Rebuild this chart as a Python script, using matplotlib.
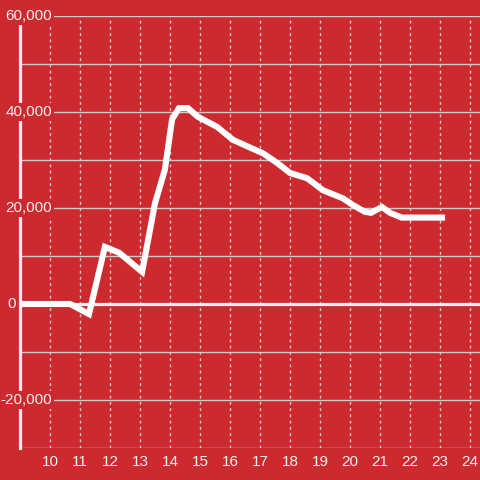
import matplotlib
matplotlib.use("Agg")
import matplotlib.pyplot as plt
import matplotlib.ticker as mticker

plt.rcParams["font.family"] = ["Liberation Sans", "DejaVu Sans"]

# hour of day vs value
HOURS = [9.0, 10.67, 11.3, 11.83, 12.3, 13.07, 13.5, 13.83, 14.07, 14.3,
         14.6, 14.93, 15.57, 16.1, 16.7, 17.1, 17.57, 18.0, 18.57, 19.1,
         19.77, 20.1, 20.5, 20.7, 21.07, 21.33, 21.73, 23.17]
VALUES = [0, 0, -2100, 11900, 10700, 6700, 21000, 28000, 38500, 40800,
          40800, 39000, 36900, 34200, 32500, 31400, 29400, 27300, 26200, 23700,
          22000, 20600, 19200, 19000, 20200, 19000, 18000, 18000]

X_TICKS = list(range(10, 25))
Y_LABEL_TICKS = [-20000, 0, 20000, 40000, 60000]
Y_GRID_TICKS = [-30000, -20000, -10000, 0, 10000, 20000, 30000, 40000, 50000, 60000]

BG = "#cc2a2f"
GRID = "#cccccc"
FG = "#f0f0f0"

fig = plt.figure(figsize=(4.8, 4.8), dpi=100, facecolor=BG)
ax = fig.add_axes([20 / 480, 32 / 480, 460 / 480, 432 / 480], facecolor=BG)

ax.set_xlim(9, 9 + 460 / 30)
ax.set_ylim(-30000, 60000)

# grid
ax.set_xticks(X_TICKS)
ax.set_yticks(Y_GRID_TICKS)
ax.yaxis.set_major_formatter(mticker.NullFormatter())
ax.grid(axis="y", color=GRID, lw=1.0, ls="-")
ax.grid(axis="x", color=GRID, lw=1.0, ls=(0, (2, 2.5)))
ax.tick_params(axis="both", length=0)
ax.tick_params(axis="x", colors=FG, labelsize=11, pad=5)
ax.tick_params(axis="y", labelleft=False)

for side in ["top", "right", "bottom"]:
    ax.spines[side].set_visible(False)
ax.spines["left"].set_color(FG)
ax.spines["left"].set_linewidth(2.3)
ax.spines["left"].set_zorder(3)

# zero line
ax.axhline(0, color=FG, lw=2.3, zorder=3)

# data line
ax.plot(HOURS, VALUES, color="white", lw=4.4, zorder=4,
        solid_joinstyle="miter", solid_capstyle="butt")

# y labels drawn inside, over grid and spine
ytr = ax.get_yaxis_transform()
for v in Y_LABEL_TICKS:
    xpos = (16 - 20) / 460 if v == 0 else (52 - 20) / 460
    ax.text(xpos, v, f"{v:,}", transform=ytr, ha="right", va="center",
            fontsize=11, color=FG, zorder=5, clip_on=False,
            bbox=dict(boxstyle="square,pad=0.12", fc=BG, ec="none"))

fig.savefig("out.png", dpi=100, facecolor=BG)
